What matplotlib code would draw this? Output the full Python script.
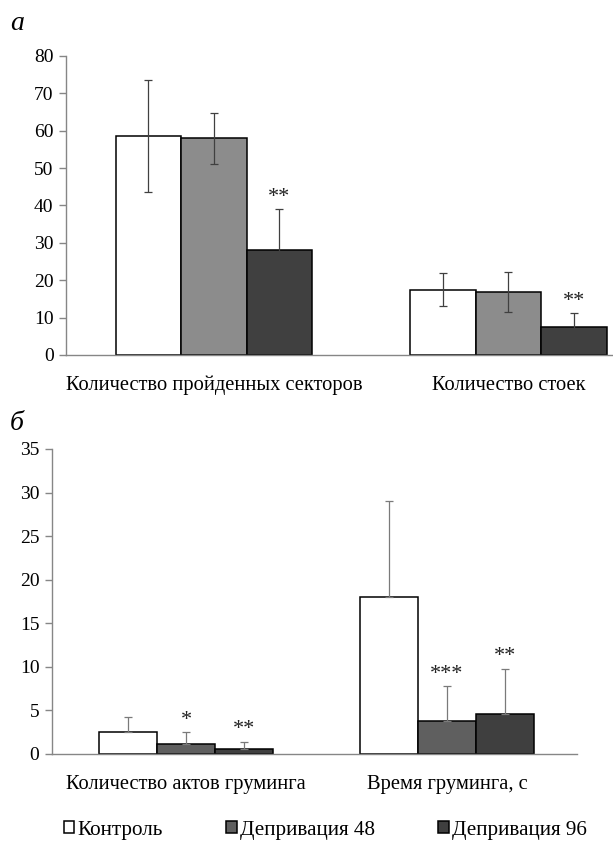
import numpy as np
import matplotlib.pyplot as plt
from matplotlib.patches import Patch

plt.rcParams['font.family'] = ['Liberation Serif', 'DejaVu Serif']

# panel a
cats_a = ['Количество пройденных секторов', 'Количество стоек']
ctrl_a = [58.5, 17.5]
dep48_a = [58.0, 16.9]
dep96_a = [28.0, 7.5]
ctrl_a_err = [15.0, 4.5]
dep48_a_err = [6.8, 5.4]
dep96_a_err = [11.0, 3.7]
stars_a = [['', '', '**'], ['', '', '**']]

# panel b
cats_b = ['Количество актов груминга', 'Время груминга, с']
ctrl_b = [2.5, 18.0]
dep48_b = [1.2, 3.8]
dep96_b = [0.55, 4.6]
ctrl_b_err = [1.7, 11.0]
dep48_b_err = [1.3, 4.0]
dep96_b_err = [0.85, 5.2]
stars_b = [['', '*', '**'], ['', '***', '**']]

legend_labels = ['Контроль', 'Депривация 48', 'Депривация 96']

axis_col = '#868686'

fig = plt.figure(figsize=(6.13, 8.43), dpi=100)


def draw_panel(ax, cats, series, errs, colors, stars, ymax, ystep, both_sides, err_col):
    centers = np.array([0.0, 4.5])
    for i, (vals, err, col) in enumerate(zip(series, errs, colors)):
        x = centers + (i - 1)
        ax.bar(x, vals, width=1.0, color=col, edgecolor='black', linewidth=1.1, zorder=2)
        if both_sides:
            yerr = err
        else:
            yerr = [np.zeros(len(err)), err]
        ax.errorbar(x, vals, yerr=yerr, fmt='none', ecolor=err_col, elinewidth=0.9,
                    capsize=3, capthick=0.9, zorder=3)
        for j in range(len(vals)):
            s = stars[j][i]
            if s:
                ax.text(x[j], vals[j] + err[j] + ymax * 0.008, s,
                        ha='center', va='bottom', fontsize=16, color='#222222')
    ax.set_ylim(0, ymax)
    ax.set_yticks(np.arange(0, ymax + 0.1, ystep))
    ax.set_xticks(centers)
    ax.set_xticklabels(cats, fontsize=14.8)
    ax.tick_params(axis='x', length=0, pad=15)
    ax.tick_params(axis='y', labelsize=14, length=5, color=axis_col, width=1, pad=4)
    for sp in ['top', 'right']:
        ax.spines[sp].set_visible(False)
    for sp in ['left', 'bottom']:
        ax.spines[sp].set_color(axis_col)
        ax.spines[sp].set_linewidth(1)
    return centers


ax1 = fig.add_axes([0.1077, 0.5789, 0.8903, 0.3547])
draw_panel(ax1, cats_a, [ctrl_a, dep48_a, dep96_a], [ctrl_a_err, dep48_a_err, dep96_a_err],
           ['white', '#8c8c8c', '#404040'], stars_a, 80, 10, True, '#404040')
ax1.set_xlim(-2.26, 6.08)

ax2 = fig.add_axes([0.0848, 0.1056, 0.8565, 0.3618])
draw_panel(ax2, cats_b, [ctrl_b, dep48_b, dep96_b], [ctrl_b_err, dep48_b_err, dep96_b_err],
           ['white', '#5f5f5f', '#3f3f3f'], stars_b, 35, 5, False, '#7a7a7a')
ax2.set_xlim(-2.31, 6.74)

fig.text(0.016, 0.972, 'а', fontsize=20, style='italic', va='center')
fig.text(0.016, 0.498, 'б', fontsize=20, style='italic', va='center')

handles = [Patch(facecolor=c, edgecolor='black', linewidth=1.1)
           for c in ['white', '#5f5f5f', '#3f3f3f']]
fig.legend(handles, legend_labels, loc='center left', bbox_to_anchor=(0.104, 0.015), ncol=3,
           frameon=False, fontsize=15.2, handlelength=0.5, handleheight=0.5, handletextpad=0.15,
           columnspacing=3.0, borderaxespad=0, borderpad=0)

fig.savefig('out.png', dpi=100)
